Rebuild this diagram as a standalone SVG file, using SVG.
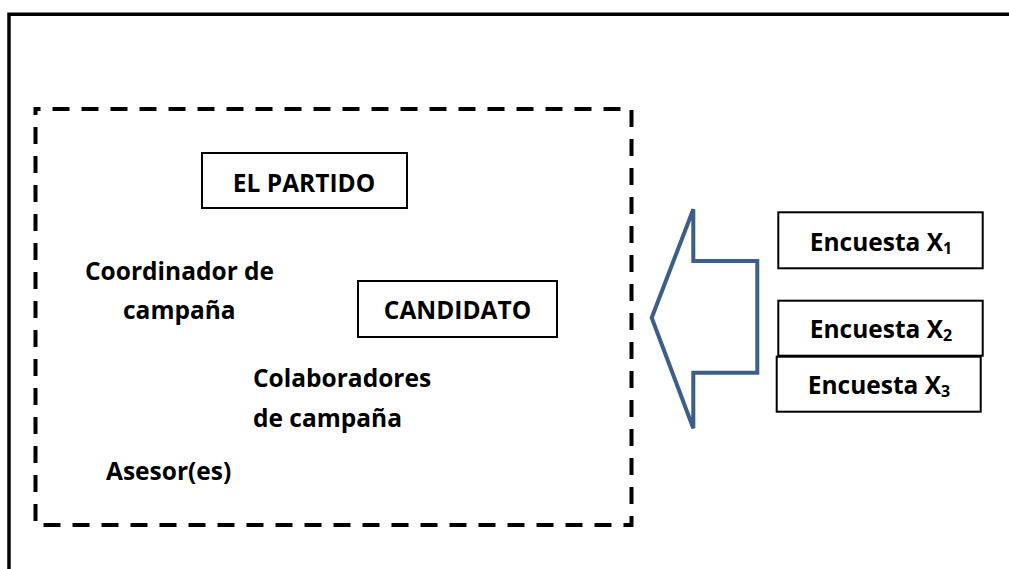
<svg xmlns="http://www.w3.org/2000/svg" width="1009" height="569" viewBox="0 0 1009 569">
  <style>
    .t { font-family: "Open Sans", "Liberation Sans", sans-serif; font-weight: bold; font-size: 24.5px; fill: #000; }
    .box { fill: #fff; stroke: #000; stroke-width: 2; }
    .sub { font-size: 16px; }
  </style>
  <rect x="0" y="0" width="1009" height="569" fill="#fff"/>
  <g id="frame">
    <path d="M9 569 V14.3 H1009" fill="none" stroke="#000" stroke-width="3.5"/>
  </g>
  <g id="group-boundary">
    <rect x="35.5" y="109" width="596" height="416" fill="none" stroke="#000" stroke-width="4" stroke-dasharray="17 12" stroke-dashoffset="12"/>
  </g>
  <g id="el-partido">
    <rect class="box" x="202" y="153" width="205" height="55"/>
    <text class="t" x="304" y="192" text-anchor="middle">EL PARTIDO</text>
  </g>
  <g id="candidato">
    <rect class="box" x="358" y="281" width="199" height="56"/>
    <text class="t" x="457.5" y="319" text-anchor="middle">CANDIDATO</text>
  </g>
  <g id="coordinador">
    <text class="t" x="85" y="280">Coordinador de</text>
    <text class="t" x="123" y="319">campaña</text>
  </g>
  <g id="colaboradores">
    <text class="t" x="253" y="387">Colaboradores</text>
    <text class="t" x="253" y="427">de campaña</text>
  </g>
  <g id="asesores">
    <text class="t" x="106" y="480">Asesor(es)</text>
  </g>
  <g id="connectors">
    <polygon id="arrow" points="651.7,317.7 693.3,209.3 693.3,261 757.3,261 757.3,372.7 693.3,372.7 693.3,428.3" fill="#fff" stroke="#3B5E8C" stroke-width="4" stroke-linejoin="miter"/>
  </g>
  <g id="encuesta-x1">
    <rect class="box" x="778.3" y="212.3" width="204.4" height="56"/>
    <text class="t" x="881" y="251" text-anchor="middle">Encuesta X<tspan class="sub" dy="3">1</tspan></text>
  </g>
  <g id="encuesta-x2">
    <rect class="box" x="778.3" y="300.7" width="204.4" height="55"/>
    <text class="t" x="881" y="338" text-anchor="middle">Encuesta X<tspan class="sub" dy="3">2</tspan></text>
  </g>
  <g id="encuesta-x3">
    <rect class="box" x="776.7" y="356.7" width="204" height="55"/>
    <text class="t" x="879" y="394" text-anchor="middle">Encuesta X<tspan class="sub" dy="3">3</tspan></text>
  </g>
</svg>
